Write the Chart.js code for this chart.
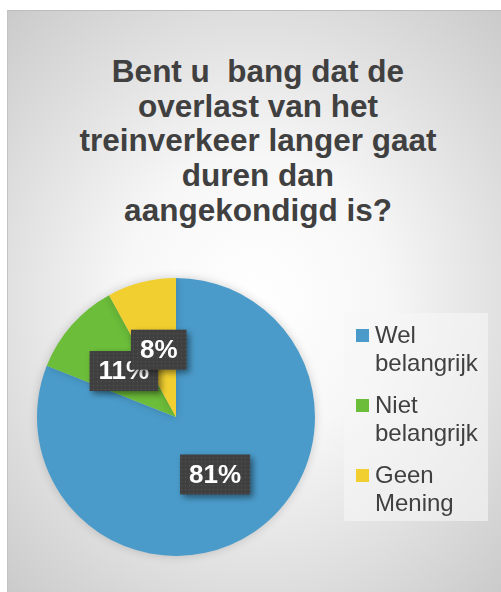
<!DOCTYPE html>
<html>
<head>
<meta charset="utf-8">
<script src="https://cdn.jsdelivr.net/npm/chart.js@4"></script>
<style>
    html, body { margin: 0; padding: 0; background: #fff; }
    #wrap { position: relative; width: 501px; height: 592px; overflow: hidden; font-family: "Liberation Sans", Arial, sans-serif; }
    #frame {
        position: absolute; left: 7px; top: 10px; width: 494px; height: 582px;
        background: radial-gradient(ellipse 75% 70% at 50% 50%, #ffffff 0%, #f7f7f7 35%, #c9c9c9 100%);
        border-top: 1px solid #bdbdbd; border-left: 1px solid #c4c4c4; box-sizing: border-box;
    }
    #title {
        position: absolute; left: 11px; top: 54px; width: 494px; text-align: center;
        font-weight: bold; font-size: 31.5px; line-height: 34.7px; color: #404040; white-space: pre;
    }
    #chart { position: absolute; left: 0; top: 0; }
    #legend {
        position: absolute; left: 344px; top: 313px; width: 144px; height: 208px;
        background: rgba(246, 246, 246, 0.6); box-sizing: border-box; padding: 8px 0 0 12px;
    }
    .item { display: flex; align-items: flex-start; margin-bottom: 14px; }
    .box { width: 13px; height: 13px; margin: 8px 6px 0 0; flex: none; }
    .txt { width: 108px; font-size: 24px; line-height: 28px; color: #404040; }
</style>
</head>
<body>
<div id="wrap">
    <div id="frame"></div>
    <div id="title"></div>
    <canvas id="chart" width="501" height="592"></canvas>
    <div id="legend"></div>
</div>
<script>
const titleLines = ["Bent u  bang dat de", "overlast van het", "treinverkeer langer gaat", "duren dan", "aangekondigd is?"];
const categories = ["Wel belangrijk", "Niet belangrijk", "Geen Mening"];
const shares = [81, 11, 8];
const sliceColors = ["#4a9bca", "#6cbd3a", "#f1cf30"];

document.getElementById("title").textContent = titleLines.join("\n");

document.getElementById("legend").innerHTML = categories.map((c, i) =>
    `<div class="item"><span class="box" style="background:${sliceColors[i]}"></span><span class="txt">${c}</span></div>`
).join("");

// dotted dark fill used behind the data labels
const tile = document.createElement("canvas");
tile.width = 4; tile.height = 4;
const tctx = tile.getContext("2d");
tctx.fillStyle = "#404040";
tctx.fillRect(0, 0, 4, 4);
tctx.fillStyle = "#565656";
tctx.fillRect(1, 1, 1, 1);

const pieShadow = {
    id: "pieShadow",
    beforeDatasetsDraw(chart) {
        const ctx = chart.ctx;
        ctx.save();
        ctx.shadowColor = "rgba(0,0,0,0.18)";
        ctx.shadowBlur = 10;
    },
    afterDatasetsDraw(chart) {
        chart.ctx.restore();
    }
};

const boxLabels = {
    id: "boxLabels",
    afterDatasetsDraw(chart) {
        const ctx = chart.ctx;
        const meta = chart.getDatasetMeta(0);
        ctx.save();
        ctx.font = "bold 26px 'Liberation Sans', Arial, sans-serif";
        ctx.textAlign = "center";
        ctx.textBaseline = "middle";
        meta.data.forEach((arc, i) => {
            const pos = arc.tooltipPosition();
            const text = shares[i] + "%";
            const w = ctx.measureText(text).width + 18;
            const h = 40;
            const x = pos.x - w / 2;
            const y = pos.y - h / 2;
            ctx.save();
            ctx.shadowColor = "rgba(0,0,0,0.45)";
            ctx.shadowBlur = 6;
            ctx.shadowOffsetX = 3;
            ctx.shadowOffsetY = 3;
            ctx.fillStyle = ctx.createPattern(tile, "repeat");
            ctx.fillRect(x, y, w, h);
            ctx.restore();
            ctx.fillStyle = "#ffffff";
            ctx.fillText(text, pos.x, pos.y + 1);
        });
        ctx.restore();
    }
};

new Chart(document.getElementById("chart"), {
    type: "pie",
    data: {
        labels: categories,
        datasets: [{ data: shares, backgroundColor: sliceColors, borderWidth: 0 }]
    },
    options: {
        responsive: false,
        animation: false,
        layout: { padding: { left: 37, top: 278, right: 186, bottom: 36 } },
        plugins: { legend: { display: false }, tooltip: { enabled: false } }
    },
    plugins: [pieShadow, boxLabels]
});
</script>
</body>
</html>
